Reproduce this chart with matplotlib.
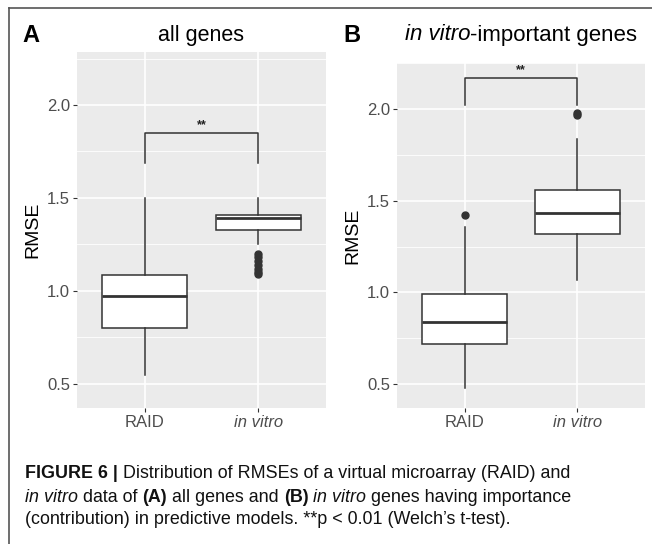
import matplotlib
matplotlib.use("Agg")
import matplotlib.pyplot as plt
from matplotlib.lines import Line2D

plt.rcParams['font.family'] = ['Liberation Sans', 'DejaVu Sans']

# box statistics (RMSE)
groups = ["RAID", "in vitro"]

a_q1 = [0.80, 1.33]
a_med = [0.975, 1.39]
a_q3 = [1.086, 1.41]
a_lo = [0.55, 1.25]
a_hi = [1.50, 1.50]
a_out = [[], [1.20, 1.18, 1.16, 1.14, 1.12, 1.10, 1.09]]

b_q1 = [0.72, 1.32]
b_med = [0.84, 1.43]
b_q3 = [0.99, 1.56]
b_lo = [0.48, 1.07]
b_hi = [1.355, 1.835]
b_out = [[1.42], [1.965, 1.975]]

# significance brackets: (bar height, tick bottom, label)
a_sig = (1.85, 1.69, "**")
b_sig = (2.17, 2.02, "**")

W, H = 652, 544
fig = plt.figure(figsize=(W / 100, H / 100), dpi=100)
fig.patch.set_facecolor("white")

# frame lines of the figure box
fig.add_artist(Line2D([9 / W, 9 / W], [0, 1 - 8 / H], color="#555555", lw=1.2))
fig.add_artist(Line2D([9 / W, 1], [1 - 8 / H, 1 - 8 / H], color="#555555", lw=1.2))


def panel(rect, ylim, q1, med, q3, lo, hi, out, sig):
    ax = fig.add_axes(rect)
    ax.set_facecolor("#EBEBEB")
    stats = []
    for i in range(len(groups)):
        stats.append(dict(q1=q1[i], med=med[i], q3=q3[i], whislo=lo[i],
                          whishi=hi[i], fliers=out[i], label=groups[i]))
    ax.bxp(stats, positions=[1, 2], widths=0.75, showcaps=False,
           patch_artist=True,
           boxprops=dict(facecolor="white", edgecolor="#333333", lw=1.1),
           medianprops=dict(color="#333333", lw=2.0),
           whiskerprops=dict(color="#333333", lw=1.1),
           flierprops=dict(marker="o", markerfacecolor="#333333",
                           markeredgecolor="#333333", markersize=5),
           zorder=3)
    ax.set_xlim(0.4, 2.6)
    ax.set_ylim(*ylim)
    ax.set_yticks([0.5, 1.0, 1.5, 2.0])
    ax.set_yticklabels(["0.5", "1.0", "1.5", "2.0"])
    ax.set_yticks([0.75, 1.25, 1.75, 2.25], minor=True)
    ax.set_xticks([1, 2])
    ax.set_xticklabels(groups)
    ax.get_xticklabels()[1].set_style("italic")
    ax.grid(True, which="major", color="white", lw=1.2, zorder=0)
    ax.grid(True, which="minor", axis="y", color="white", lw=0.6, zorder=0)
    ax.set_axisbelow(True)
    for s in ax.spines.values():
        s.set_visible(False)
    ax.tick_params(which="major", length=3, color="#333333", labelcolor="#4D4D4D",
                   labelsize=12, pad=2)
    ax.tick_params(which="minor", length=0)
    ax.set_ylabel("RMSE", fontsize=14, color="black", labelpad=4)
    top, bot, lab = sig
    ax.plot([1, 1, 2, 2], [bot, top, top, bot], color="#333333", lw=1.1, zorder=4)
    ax.text(1.5, top + 0.01, lab, ha="center", va="bottom", fontsize=9,
            fontweight="bold", color="#222222")
    return ax


axA = panel([77 / W, 136 / H, 249 / W, 356 / H], (0.37, 2.285),
            a_q1, a_med, a_q3, a_lo, a_hi, a_out, a_sig)
axB = panel([397 / W, 136 / H, 248 / W, 345 / H], (0.37, 2.25),
            b_q1, b_med, b_q3, b_lo, b_hi, b_out, b_sig)

fig.canvas.draw()
renderer = fig.canvas.get_renderer()


def advance(txt, size, style, weight):
    # width of a piece incl. spaces, measured with a guard char
    g = fig.text(0.5, 0.5, txt + "|", fontsize=size, style=style, fontweight=weight)
    g2 = fig.text(0.5, 0.5, "|", fontsize=size, style=style, fontweight=weight)
    w = g.get_window_extent(renderer).width - g2.get_window_extent(renderer).width
    g.remove()
    g2.remove()
    return w


def runs(x, y, parts, size, color="#111111", draw=True):
    # place text pieces one after another in pixel coordinates
    for txt, style, weight in parts:
        if draw:
            fig.text(x / W, 1 - y / H, txt, fontsize=size, style=style,
                     fontweight=weight, va="center", ha="left", color=color)
        x += advance(txt, size, style, weight)
    return x


# panel letters and titles
fig.text(22 / W, 1 - 36 / H, "A", fontsize=17, fontweight="bold", va="center")
fig.text(343 / W, 1 - 36 / H, "B", fontsize=17, fontweight="bold", va="center")
fig.text(201 / W, 1 - 35 / H, "all genes", fontsize=15.5, va="center", ha="center")

title_parts = [("in vitro", "italic", "normal"), ("-important genes", "normal", "normal")]
tw = runs(0, 0, title_parts, 16, draw=False)
runs(521 - tw / 2, 35, title_parts, 16, color="black")

cap = 12.9
runs(25, 474, [("FIGURE 6 |", "normal", "bold"),
               (" Distribution of RMSEs of a virtual microarray (RAID) and", "normal", "normal")], cap)
runs(25, 497, [("in vitro", "italic", "normal"), (" data of ", "normal", "normal"),
               ("(A)", "normal", "bold"), (" all genes and ", "normal", "normal"),
               ("(B)", "normal", "bold"), (" ", "normal", "normal"),
               ("in vitro", "italic", "normal"),
               (" genes having importance", "normal", "normal")], cap)
runs(25, 520, [("(contribution) in predictive models. **p < 0.01 (Welch\u2019s t-test).",
                "normal", "normal")], cap)

fig.savefig("out.png", dpi=100)
